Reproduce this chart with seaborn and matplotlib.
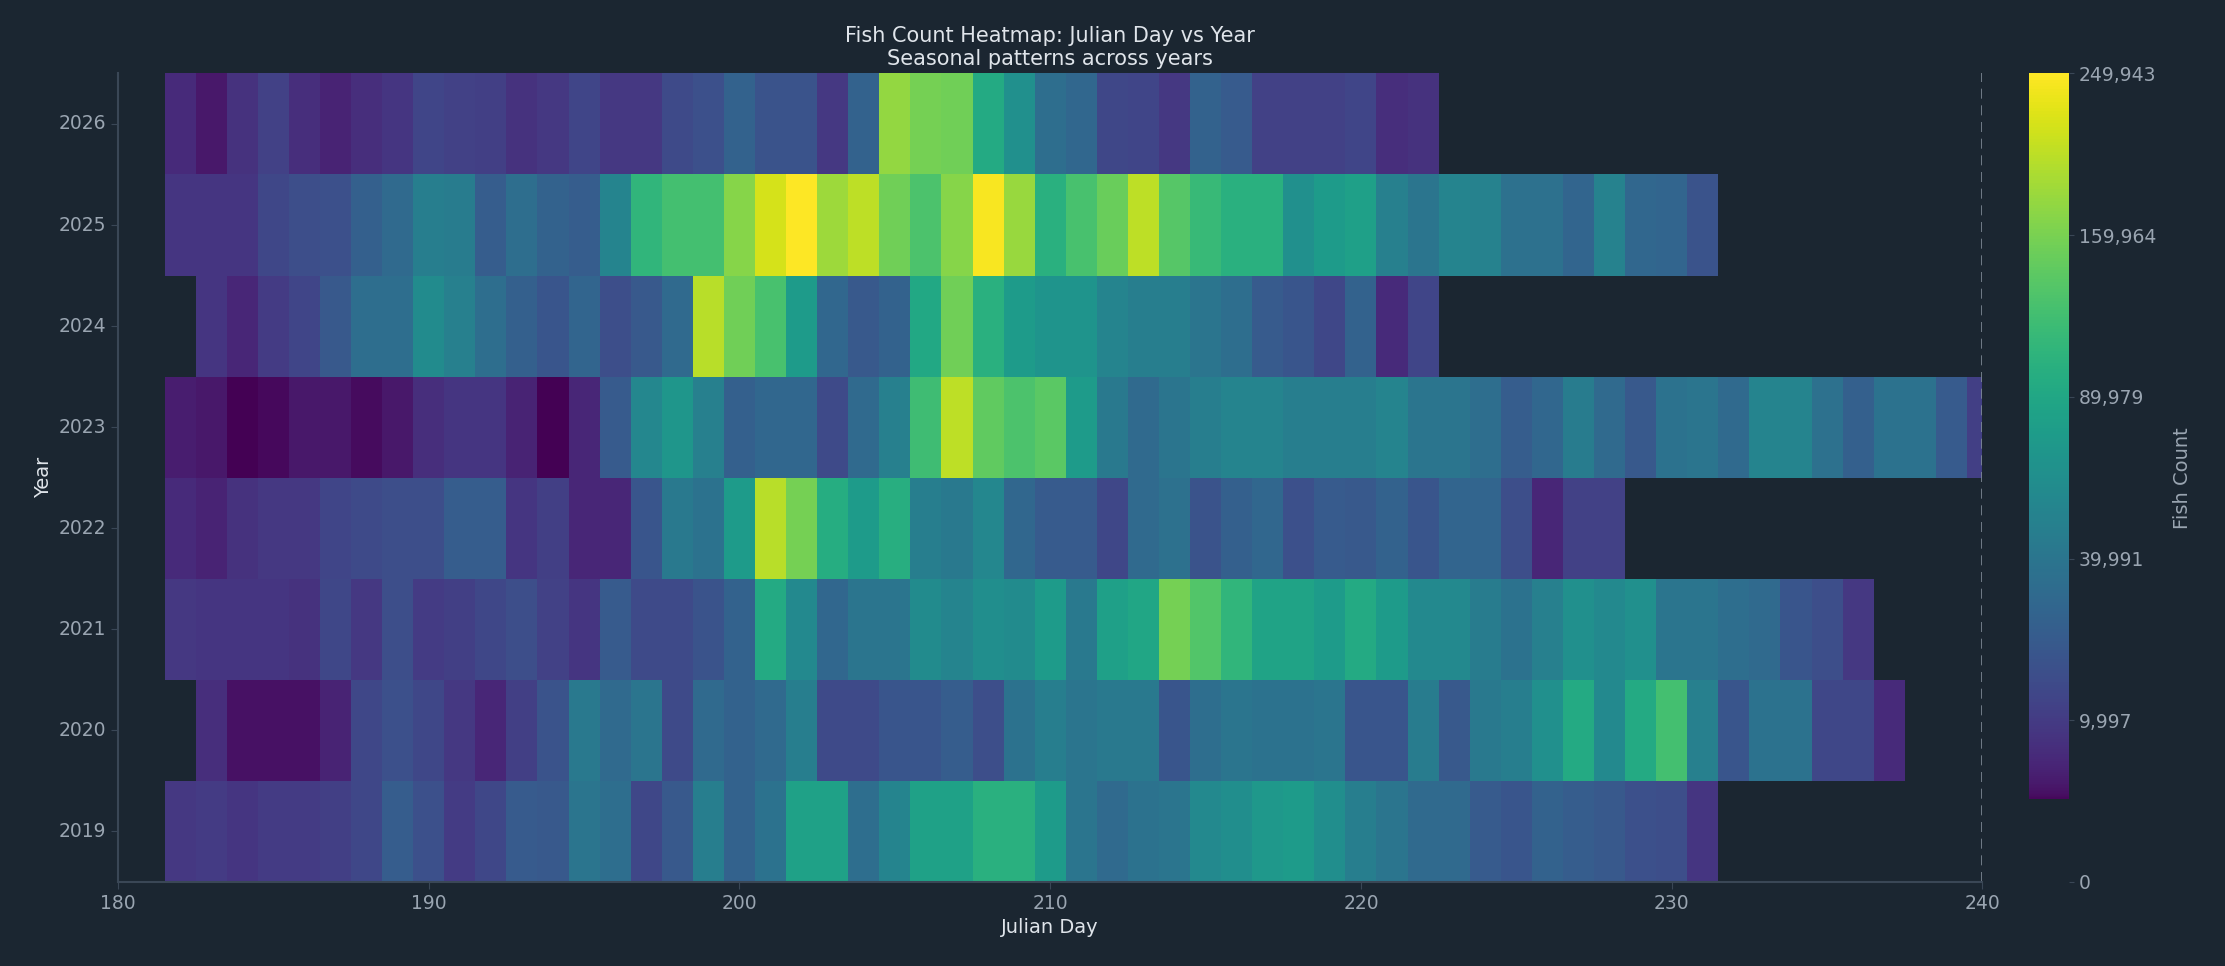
import numpy as np
import pandas as pd
import seaborn as sns
import matplotlib.pyplot as plt
from matplotlib.colors import PowerNorm
from matplotlib.ticker import FuncFormatter, FixedLocator

# fish counts per julian day, in thousands
first_day = {2019: 182, 2020: 183, 2021: 182, 2022: 182, 2023: 182, 2024: 183, 2025: 182, 2026: 182}

counts_2026 = [6.1, 3.6, 7.6, 12.0, 6.8, 4.8, 6.8, 8.4, 13.0, 12.0, 11.0, 7.6, 9.2, 13.0, 9.2, 9.2, 15.1, 17.4, 26.7,
               18.6, 18.6, 9.2, 26.7, 175.7, 157.4, 153.8, 94.2, 64.0, 34.5, 29.7, 14.0, 13.0, 9.2, 26.7, 22.4, 12.0,
               12.0, 12.0, 13.0, 6.8, 7.6]
counts_2025 = [8.4, 8.4, 8.4, 14.0, 16.2, 17.4, 25.2, 31.2, 47.1, 45.2, 23.8, 34.5, 26.7, 23.8, 53.2, 108.5, 123.8,
               123.8, 168.3, 219.6, 249.943, 183.3, 203.0, 153.8, 130.2, 168.3, 245.0, 179.5, 102.7, 127.0, 150.4,
               203.0, 136.8, 114.5, 102.7, 102.7, 64.0, 75.9, 80.9, 49.1, 39.7, 53.2, 51.1, 36.2, 36.2, 28.1, 51.1,
               29.7, 28.1, 18.6]
counts_2024 = [8.4, 5.4, 10.1, 13.0, 21.1, 34.5, 34.5, 59.6, 49.1, 34.5, 25.2, 19.8, 28.1, 16.2, 21.1, 31.2, 199.0,
               153.8, 127.0, 75.9, 29.7, 21.1, 26.7, 91.5, 153.8, 102.7, 75.9, 68.7, 68.7, 53.2, 47.1, 47.1, 39.7,
               34.5, 22.4, 19.8, 14.0, 26.7, 6.1, 13.0]
counts_2023 = [4.2, 3.6, 2.6, 2.7, 3.6, 3.6, 2.8, 3.6, 6.8, 8.4, 8.4, 4.8, 2.6, 5.4, 22.4, 55.3, 71.0, 49.1, 25.2,
               29.7, 29.7, 15.1, 31.2, 49.1, 120.6, 203.0, 143.5, 130.2, 140.1, 75.9, 43.3, 31.2, 39.7, 47.1, 53.2,
               53.2, 47.1, 47.1, 47.1, 53.2, 39.7, 39.7, 34.5, 23.8, 29.7, 45.2, 31.2, 21.1, 37.9, 39.7, 31.2, 53.2,
               53.2, 36.2, 25.2, 37.9, 37.9, 22.4, 11.0]
counts_2022 = [6.1, 4.8, 7.6, 9.2, 9.2, 13.0, 15.1, 16.2, 16.2, 23.8, 23.8, 8.4, 11.0, 5.4, 5.4, 19.8, 43.3, 37.9,
               75.9, 199.0, 157.4, 97.0, 75.9, 99.8, 47.1, 43.3, 55.3, 29.7, 22.4, 22.4, 14.0, 31.2, 36.2, 18.6, 25.2,
               29.7, 17.4, 22.4, 21.1, 26.7, 19.8, 28.1, 28.1, 16.2, 5.4, 12.0, 12.0]
counts_2021 = [9.2, 8.4, 8.4, 8.4, 7.6, 14.0, 9.2, 16.2, 10.1, 11.0, 14.0, 16.2, 12.0, 8.4, 22.4, 15.1, 15.1, 18.6,
               26.7, 94.2, 57.4, 29.7, 39.7, 39.7, 59.6, 53.2, 61.8, 59.6, 75.9, 43.3, 80.9, 88.8, 157.4, 133.4, 108.5,
               86.1, 86.1, 75.9, 94.2, 75.9, 57.4, 57.4, 45.2, 37.9, 49.1, 64.0, 57.4, 64.0, 39.7, 39.7, 34.5, 31.2,
               19.8, 16.2, 9.2]
counts_2020 = [6.8, 3.1, 3.1, 3.1, 4.8, 14.0, 17.4, 14.0, 9.2, 5.4, 11.0, 18.6, 43.3, 31.2, 39.7, 15.1, 31.2, 26.7,
               31.2, 47.1, 15.1, 15.1, 19.8, 19.8, 23.8, 16.2, 37.9, 47.1, 39.7, 43.3, 43.3, 19.8, 34.5, 39.7, 37.9,
               37.9, 39.7, 19.8, 19.8, 45.2, 21.1, 43.3, 47.1, 64.0, 94.2, 57.4, 94.2, 123.8, 49.1, 19.8, 37.9, 37.9,
               14.0, 14.0, 6.1]
counts_2019 = [9.2, 10.1, 8.4, 10.1, 10.1, 11.0, 14.0, 23.8, 17.4, 10.1, 14.0, 22.4, 21.1, 39.7, 34.5, 14.0, 21.1,
               47.1, 26.7, 37.9, 83.5, 83.5, 34.5, 53.2, 83.5, 83.5, 102.7, 102.7, 75.9, 39.7, 31.2, 37.9, 39.7, 57.4,
               61.8, 73.4, 75.9, 61.8, 47.1, 39.7, 31.2, 31.2, 22.4, 19.8, 26.7, 23.8, 21.1, 17.4, 16.2, 8.4]

series = {2026: counts_2026, 2025: counts_2025, 2024: counts_2024, 2023: counts_2023,
          2022: counts_2022, 2021: counts_2021, 2020: counts_2020, 2019: counts_2019}

cbar_ticks = [0, 9997, 39991, 89979, 159964, 249943]

days = list(range(180, 241))
grid = pd.DataFrame(np.nan, index=list(series.keys()), columns=days)
for year, vals in series.items():
    d0 = first_day[year]
    for i, v in enumerate(vals):
        grid.loc[year, d0 + i] = v * 1000

vmax = np.nanmax(grid.values)
vmin = np.nanmin(grid.values)

bg = '#1b2631'
txt = '#dfe4ea'
tick_col = '#9aa5b1'
spine_col = '#3a4756'

plt.rcParams.update({'font.family': 'DejaVu Sans', 'font.size': 12.5})
fig = plt.figure(figsize=(22.25, 9.66), dpi=100, facecolor=bg)
ax = fig.add_axes([0.053, 0.087, 0.838, 0.837], facecolor=bg)
cax = fig.add_axes([0.912, 0.087, 0.018, 0.837], facecolor=bg)

sns.heatmap(grid, ax=ax, cbar_ax=cax, cmap='viridis', norm=PowerNorm(0.5, vmin=vmin, vmax=vmax),
            xticklabels=False, yticklabels=True)

# column j covers days (180 + j - 0.5, 180 + j + 0.5)
ax.set_xlim(0.5, 60.5)
xt = [180, 190, 200, 210, 220, 230, 240]
ax.set_xticks([d - 180 + 0.5 for d in xt])
ax.set_xticklabels([str(d) for d in xt])
ax.set_yticklabels([str(y) for y in grid.index], rotation=0)
ax.axvline(60.5, color='#7f8a96', ls=(0, (6, 4)), lw=1.2)

for side in ['top', 'right']:
    ax.spines[side].set_visible(False)
for side in ['left', 'bottom']:
    ax.spines[side].set_visible(True)
    ax.spines[side].set_color(spine_col)
    ax.spines[side].set_linewidth(1.5)
ax.tick_params(colors=tick_col, labelsize=13.5, length=5, color=spine_col)
ax.set_xlabel('Julian Day', color=txt, fontsize=14)
ax.set_ylabel('Year', color=txt, fontsize=14)
ax.set_title('Fish Count Heatmap: Julian Day vs Year\nSeasonal patterns across years', color=txt,
             fontsize=15, pad=6)

cbar = ax.collections[0].colorbar
cbar.outline.set_edgecolor(spine_col)
cbar.set_label('Fish Count', color=tick_col, fontsize=14, labelpad=12)

fig.canvas.draw()
# plain square-root scale on the bar so the range below the data minimum stays empty
cax.set_yscale('function', functions=(lambda y: np.sqrt(np.clip(y, 0, None)), np.square))
cax.set_ylim(0, vmax)
cax.yaxis.set_major_locator(FixedLocator(cbar_ticks))
cax.yaxis.set_minor_locator(FixedLocator([]))
cax.yaxis.set_major_formatter(FuncFormatter(lambda v, p: f'{int(round(v)):,}'))
cax.tick_params(colors=tick_col, labelsize=13.5, color=spine_col)

fig.savefig('out.png', dpi=100, facecolor=bg)
